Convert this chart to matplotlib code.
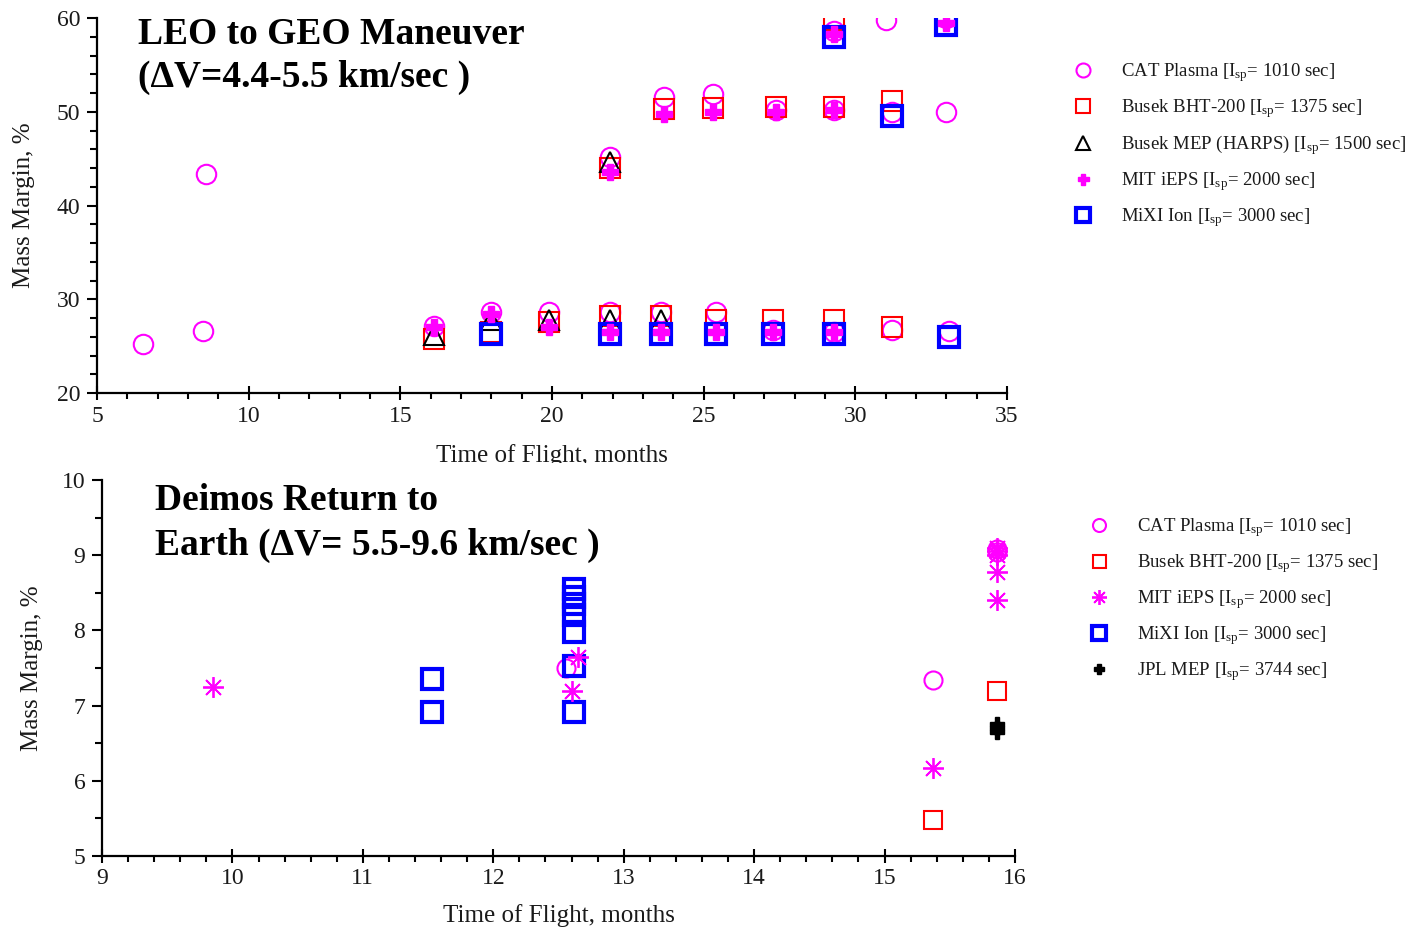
import matplotlib
matplotlib.use("Agg")
import matplotlib.pyplot as plt
from matplotlib.transforms import Bbox
import numpy as np

plt.rcParams['font.family'] = ['Liberation Serif', 'DejaVu Serif']
plt.rcParams['mathtext.fontset'] = 'custom'
plt.rcParams['mathtext.rm'] = 'Liberation Serif'
plt.rcParams['mathtext.it'] = 'Liberation Serif:italic'
plt.rcParams['mathtext.bf'] = 'Liberation Serif:bold'

# ---------------- Top panel: LEO to GEO ----------------
leo_cat_x = [6.5, 8.5, 8.6, 16.1, 18.0, 19.9, 21.9, 21.9, 23.6, 23.7, 25.4, 25.3, 27.3, 27.4, 29.3, 29.3, 29.3, 31.2, 31.2, 31.0, 33.1, 33.0, 33.0]
leo_cat_y = [25.2, 26.6, 43.4, 27.2, 28.6, 28.6, 28.6, 45.2, 28.6, 51.6, 28.6, 51.9, 26.7, 50.2, 26.5, 50.2, 58.6, 26.7, 50.0, 59.8, 26.6, 50.0, 60.0]

leo_bht_x = [16.1, 18.0, 19.9, 21.9, 23.6, 25.4, 27.3, 29.3, 31.2, 21.9, 23.7, 25.3, 27.4, 29.3, 31.2, 29.3]
leo_bht_y = [25.8, 26.5, 27.6, 28.2, 28.2, 27.8, 27.8, 27.8, 27.0, 44.0, 50.3, 50.4, 50.5, 50.5, 51.2, 59.8]

leo_mep_x = [16.1, 18.0, 19.9, 21.9, 23.6, 21.9]
leo_mep_y = [26.2, 27.8, 27.8, 27.8, 27.8, 44.6]

leo_mit_x = [16.1, 18.0, 19.9, 21.9, 23.6, 25.4, 27.3, 29.3, 21.9, 23.7, 25.3, 27.4, 29.3, 29.3, 33.0]
leo_mit_y = [27.0, 28.4, 27.0, 26.5, 26.5, 26.5, 26.5, 26.5, 43.6, 49.8, 50.0, 50.0, 50.2, 58.3, 59.5]

leo_mixi_x = [18.0, 21.9, 23.6, 25.4, 27.3, 29.3, 33.1, 31.2, 29.3, 33.0]
leo_mixi_y = [26.3, 26.3, 26.3, 26.3, 26.3, 26.3, 26.0, 49.5, 58.0, 59.3]

leo_labels = [r"CAT Plasma [I$_{\mathrm{sp}}$= 1010 sec]",
              r"Busek BHT-200 [I$_{\mathrm{sp}}$= 1375 sec]",
              r"Busek MEP (HARPS) [I$_{\mathrm{sp}}$= 1500 sec]",
              r"MIT iEPS [I$_{\mathrm{sp}}$= 2000 sec]",
              r"MiXI Ion [I$_{\mathrm{sp}}$= 3000 sec]"]

# ---------------- Bottom panel: Deimos return ----------------
dei_cat_x = [12.56, 15.37, 15.86, 15.86]
dei_cat_y = [7.50, 7.34, 9.08, 9.04]

dei_bht_x = [15.37, 15.86]
dei_bht_y = [5.48, 7.20]

dei_mit_x = [9.85, 12.60, 12.65, 15.37, 15.86, 15.86, 15.86, 15.86, 15.86]
dei_mit_y = [7.25, 7.20, 7.65, 6.17, 9.10, 9.05, 9.00, 8.78, 8.40]

dei_mixi_x = [11.53, 11.53, 12.62, 12.62, 12.62, 12.62, 12.62, 12.62, 12.62]
dei_mixi_y = [7.35, 6.92, 8.55, 8.45, 8.35, 8.20, 7.98, 7.53, 6.92]

dei_jpl_x = [15.86, 15.86, 15.86]
dei_jpl_y = [6.75, 6.70, 6.65]

dei_labels = [r"CAT Plasma [I$_{\mathrm{sp}}$= 1010 sec]",
              r"Busek BHT-200 [I$_{\mathrm{sp}}$= 1375 sec]",
              r"MIT iEPS [I$_{\mathrm{sp}}$= 2000 sec]",
              r"MiXI Ion [I$_{\mathrm{sp}}$= 3000 sec]",
              r"JPL MEP [I$_{\mathrm{sp}}$= 3744 sec]"]

MAG = '#FF00FF'
RED = '#FF0000'
BLUE = '#0000FF'
TXT = '#1a1a1a'

W, H = 1425, 935
fig = plt.figure(figsize=(W / 100, H / 100), dpi=100)

ax1 = fig.add_axes([97 / W, 1 - 393 / H, 910 / W, 375 / H])
ax2 = fig.add_axes([102 / W, 1 - 856 / H, 913 / W, 376 / H])

ms = 14
h1 = ax1.plot(leo_cat_x, leo_cat_y, 'o', ls='none', ms=ms, mfc='none', mec=MAG, mew=1.5)[0]
h2 = ax1.plot(leo_bht_x, leo_bht_y, 's', ls='none', ms=ms, mfc='none', mec=RED, mew=1.5)[0]
h3 = ax1.plot(leo_mep_x, leo_mep_y, '^', ls='none', ms=ms, mfc='none', mec='black', mew=1.5)[0]
h5 = ax1.plot(leo_mixi_x, leo_mixi_y, 's', ls='none', ms=ms, mfc='none', mec=BLUE, mew=3)[0]
h4 = ax1.plot(leo_mit_x, leo_mit_y, 'P', ls='none', ms=11, mfc=MAG, mec=MAG, mew=1)[0]

ax1.set_xlim(5, 35)
ax1.set_ylim(20, 60)
ax1.set_xticks(np.arange(5, 36, 5))
ax1.set_xticks(np.arange(5, 36, 1), minor=True)
ax1.set_yticks(np.arange(20, 61, 10))
ax1.set_yticks(np.arange(20, 61, 2), minor=True)

g1 = ax2.plot(dei_cat_x, dei_cat_y, 'o', ls='none', ms=13, mfc='none', mec=MAG, mew=1.5)[0]
g2 = ax2.plot(dei_bht_x, dei_bht_y, 's', ls='none', ms=13, mfc='none', mec=RED, mew=1.5)[0]
g4 = ax2.plot(dei_mixi_x, dei_mixi_y, 's', ls='none', ms=14, mfc='none', mec=BLUE, mew=3)[0]
g3 = ax2.plot(dei_mit_x, dei_mit_y, marker=(8, 2, 0), ls='none', ms=15, mfc=MAG, mec=MAG, mew=1.3)[0]
g5 = ax2.plot(dei_jpl_x, dei_jpl_y, 'P', ls='none', ms=10, mfc='black', mec='black', mew=1)[0]

ax2.set_xlim(9, 16)
ax2.set_ylim(5, 10)
ax2.set_xticks(np.arange(9, 17, 1))
ax2.set_xticks(np.arange(9, 16.01, 0.2), minor=True)
ax2.set_yticks(np.arange(5, 11, 1))
ax2.set_yticks(np.arange(5, 10.01, 0.5), minor=True)

for ax in (ax1, ax2):
    for s in ('top', 'right'):
        ax.spines[s].set_visible(False)
    for s in ('left', 'bottom'):
        ax.spines[s].set_linewidth(1.6)
        ax.spines[s].set_color('black')
    ax.tick_params(axis='x', which='major', direction='inout', length=10, width=1.5, labelsize=17, pad=4, labelcolor=TXT)
    ax.tick_params(axis='x', which='minor', direction='out', length=4, width=1.5)
    ax.tick_params(axis='y', which='major', direction='out', length=7, width=1.5, labelsize=17, pad=5, labelcolor=TXT)
    ax.tick_params(axis='y', which='minor', direction='out', length=5, width=1.5)
    ax.set_ylabel("Mass Margin, %", fontsize=18, color=TXT)
    ax.set_xlabel("Time of Flight, months", fontsize=18, color=TXT)

ax1.yaxis.set_label_coords(-0.068, 0.5)
ax2.yaxis.set_label_coords(-0.065, 0.5)
ax1.xaxis.set_label_coords(0.5, -0.137)
ax2.xaxis.set_label_coords(0.5, -0.128)
# top x-label is cut by the lower panel region
ax1.xaxis.label.set_clip_box(Bbox([[0, H - 463], [W, H]]))
ax1.xaxis.label.set_clip_on(True)

# Titles
tfs = 27
fig.text(138 / W, 1 - 44 / H, "LEO to GEO Maneuver", fontsize=tfs, fontweight='bold', va='baseline', ha='left')
fig.text(138 / W, 1 - 87 / H, "(\u0394V=4.4-5.5 km/sec )", fontsize=tfs, fontweight='bold', va='baseline', ha='left')
fig.text(155 / W, 1 - 510 / H, "Deimos Return to", fontsize=tfs, fontweight='bold', va='baseline', ha='left')
fig.text(155 / W, 1 - 555 / H, "Earth (\u0394V= 5.5-9.6 km/sec )", fontsize=tfs, fontweight='bold', va='baseline', ha='left')

# Legends
leg1 = fig.legend([h1, h2, h3, h4, h5], leo_labels, loc='upper left',
                  bbox_to_anchor=(1064 / W, 1 - 61 / H), bbox_transform=fig.transFigure,
                  frameon=False, fontsize=13.5, markerscale=0.72, handlelength=2.0,
                  handletextpad=1.05, labelspacing=0.7, borderpad=0, borderaxespad=0)
leg2 = fig.legend([g1, g2, g3, g4, g5], dei_labels, loc='upper left',
                  bbox_to_anchor=(1080 / W, 1 - 516 / H), bbox_transform=fig.transFigure,
                  frameon=False, fontsize=13.5, markerscale=0.72, handlelength=2.0,
                  handletextpad=1.05, labelspacing=0.7, borderpad=0, borderaxespad=0)
for leg in (leg1, leg2):
    for t in leg.get_texts():
        t.set_color(TXT)

fig.savefig("out.png", dpi=100)
